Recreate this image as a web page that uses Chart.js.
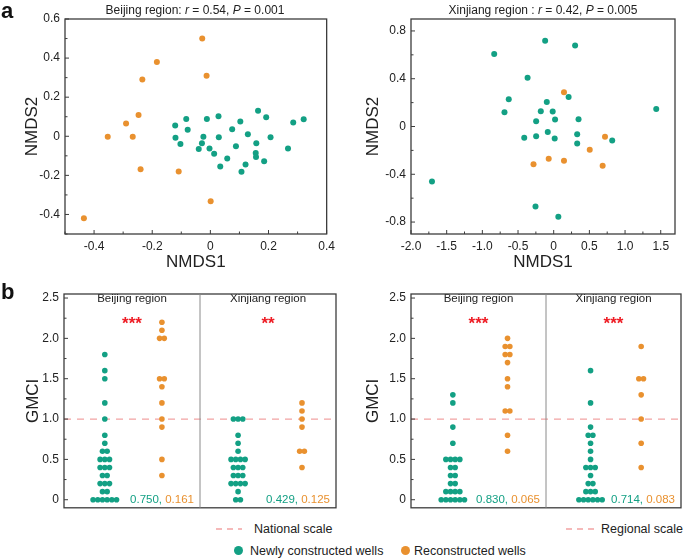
<!DOCTYPE html>
<html>
<head>
<meta charset="utf-8">
<script src="https://cdn.jsdelivr.net/npm/chart.js@4.4.1/dist/chart.umd.min.js"></script>
<style>
  body { margin: 0; background: #fff; font-family: Arial, "Liberation Sans", sans-serif; color: #222; }
  #fig { position: relative; width: 685px; height: 558px; overflow: hidden; }
  .panel { position: absolute; }
  .txt { position: absolute; white-space: nowrap; line-height: 1; }
  .letter { font-weight: bold; font-size: 22px; color: #111; }
  .title { font-size: 12px; transform: translateX(-50%); }
  .leg { font-size: 12.5px; }
  .dot { position: absolute; width: 9px; height: 9px; border-radius: 50%; }
</style>
</head>
<body>
<div id="fig">
  <canvas id="nmdsBj" class="panel" width="340" height="280" style="left:0;top:0"></canvas>
  <canvas id="nmdsXj" class="panel" width="345" height="280" style="left:340px;top:0"></canvas>
  <canvas id="gmciNat" class="panel" width="340" height="240" style="left:0;top:280px"></canvas>
  <canvas id="gmciReg" class="panel" width="345" height="240" style="left:340px;top:280px"></canvas>

  <div class="txt letter" style="left:1px;top:0px">a</div>
  <div class="txt letter" style="left:1px;top:281px">b</div>
  <div class="txt title" style="left:195px;top:4px">Beijing region: <i>r</i> = 0.54, <i>P</i> = 0.001</div>
  <div class="txt title" style="left:543px;top:4px">Xinjiang region : <i>r</i> = 0.42, <i>P</i> = 0.005</div>

  <svg class="panel" style="left:214px;top:524px" width="30" height="10"><line x1="2" y1="5" x2="28" y2="5" stroke="#f2a3a3" stroke-width="1.3" stroke-dasharray="6,5"/></svg>
  <div class="txt leg" style="left:254px;top:523px">National scale</div>
  <svg class="panel" style="left:564px;top:524px" width="32" height="10"><line x1="2" y1="5" x2="30" y2="5" stroke="#f2a3a3" stroke-width="1.3" stroke-dasharray="6,5"/></svg>
  <div class="txt leg" style="left:601px;top:523px">Regional scale</div>

  <div class="dot" style="left:234px;top:546px;background:#13a084"></div>
  <div class="txt leg" style="left:250px;top:545px">Newly constructed wells</div>
  <div class="dot" style="left:401px;top:546px;background:#e9912f"></div>
  <div class="txt leg" style="left:414px;top:545px">Reconstructed wells</div>
</div>

<script>
const green = '#13a084';
const orange = '#e9912f';

// a: NMDS scores, Beijing region
const bjNewX = [-0.121, -0.083, -0.078, -0.12, -0.103, -0.012, 0.028, -0.024, -0.029, -0.04, -0.003, 0.013, 0.029, 0.058, 0.034, 0.075, 0.103, 0.088, 0.129, 0.121, 0.107, 0.164, 0.158, 0.156, 0.157, 0.192, 0.185, 0.207, 0.267, 0.285, 0.321];
const bjNewY = [0.055, 0.089, 0.034, -0.007, -0.039, 0.089, 0.102, -0.002, -0.036, -0.065, -0.063, -0.089, -0.005, -0.114, -0.155, 0.036, 0.075, -0.051, 0.01, -0.145, -0.182, 0.131, -0.036, -0.085, -0.106, 0.097, -0.128, -0.005, -0.063, 0.07, 0.087];
const bjRecX = [-0.028, -0.184, -0.013, -0.234, -0.247, -0.29, -0.353, -0.267, -0.24, -0.109, 0.001, -0.435];
const bjRecY = [0.5, 0.38, 0.31, 0.29, 0.109, 0.065, -0.003, -0.003, -0.169, -0.18, -0.332, -0.419];

// a: NMDS scores, Xinjiang region
const xjNewX = [-0.834, -0.12, 0.30, -0.366, -0.63, -0.69, 0.209, -0.097, -0.181, -0.014, -0.246, 0.019, 0.348, 1.437, -0.413, -0.246, -0.083, 0.014, 0.329, 0.329, 0.82, -1.706, -0.255, 0.065];
const xjNewY = [0.608, 0.717, 0.678, 0.408, 0.228, 0.119, 0.247, 0.206, 0.128, 0.125, 0.044, 0.058, 0.061, 0.147, -0.094, -0.081, -0.047, -0.1, -0.064, -0.142, -0.117, -0.461, -0.669, -0.756];
const xjRecX = [0.144, 0.719, 0.505, -0.07, 0.144, -0.283, 0.686];
const xjRecY = [0.286, -0.086, -0.194, -0.269, -0.286, -0.317, -0.328];

// b: GMCI, national scale
const natBjNew = [1.8, 1.6, 1.5, 1.2, 1.0, 0.8, 0.7, 0.6, 0.6, 0.5, 0.5, 0.5, 0.4, 0.4, 0.4, 0.3, 0.3, 0.2, 0.2, 0.2, 0.1, 0.1, 0, 0, 0, 0, 0, 0];
const natBjRec = [2.2, 2.1, 2.0, 2.0, 1.5, 1.5, 1.4, 1.2, 1.0, 0.9, 0.5, 0.3];
const natXjNew = [1.0, 1.0, 1.0, 0.8, 0.7, 0.6, 0.5, 0.5, 0.5, 0.5, 0.4, 0.4, 0.4, 0.3, 0.3, 0.3, 0.2, 0.2, 0.2, 0.2, 0.1, 0, 0];
const natXjRec = [1.2, 1.1, 1.0, 0.9, 0.6, 0.6, 0.4];
const natStats = [['0.750', '0.161'], ['0.429', '0.125']];
const natStars = ['***', '**'];

// b: GMCI, regional scale
const regBjNew = [1.3, 1.2, 0.9, 0.7, 0.5, 0.5, 0.5, 0.5, 0.4, 0.4, 0.3, 0.3, 0.2, 0.2, 0.1, 0.1, 0.1, 0.1, 0, 0, 0, 0, 0, 0];
const regBjRec = [2.0, 1.9, 1.9, 1.8, 1.8, 1.7, 1.5, 1.4, 1.1, 1.1, 0.8, 0.6];
const regXjNew = [1.6, 1.2, 0.9, 0.8, 0.8, 0.7, 0.6, 0.5, 0.4, 0.4, 0.4, 0.3, 0.2, 0.2, 0.1, 0.1, 0.1, 0, 0, 0, 0, 0, 0];
const regXjRec = [1.9, 1.5, 1.5, 1.3, 1.0, 0.7, 0.4];
const regStats = [['0.830', '0.065'], ['0.714', '0.083']];
const regStars = ['***', '***'];

const regions = ['Beijing region', 'Xinjiang region'];

// tick values (minor ones get no label)
const bjXTicks = [-0.5, -0.4, -0.3, -0.2, -0.1, 0, 0.1, 0.2, 0.3, 0.4];
const bjXLabels = [-0.4, -0.2, 0, 0.2, 0.4];
const bjYTicks = [-0.5, -0.4, -0.3, -0.2, -0.1, 0, 0.1, 0.2, 0.3, 0.4, 0.5, 0.6];
const bjYLabels = [-0.4, -0.2, 0, 0.2, 0.4, 0.6];
const xjXTicks = [-2.0, -1.75, -1.5, -1.25, -1.0, -0.75, -0.5, -0.25, 0, 0.25, 0.5, 0.75, 1.0, 1.25, 1.5];
const xjXLabels = [-2.0, -1.5, -1.0, -0.5, 0, 0.5, 1.0, 1.5];
const xjYTicks = [-0.8, -0.6, -0.4, -0.2, 0, 0.2, 0.4, 0.6, 0.8];
const xjYLabels = [-0.8, -0.4, 0, 0.4, 0.8];
const gmciTicks = [0, 0.25, 0.5, 0.75, 1.0, 1.25, 1.5, 1.75, 2.0, 2.25, 2.5];
const gmciLabels = [0, 0.5, 1.0, 1.5, 2.0, 2.5];

const FONT = 'Arial, "Liberation Sans", sans-serif';
Chart.defaults.font.family = FONT;
Chart.defaults.color = '#222';

const pts = (xs, ys) => xs.map((x, i) => ({ x: x, y: ys[i] }));
const fmt = v => v === 0 ? '0' : v.toFixed(1);

// spread equal values sideways, like a dot plot
function swarm(values, center, step) {
    const total = {}, seen = {};
    values.forEach(v => total[v] = (total[v] || 0) + 1);
    return values.map(v => {
        seen[v] = seen[v] === undefined ? 0 : seen[v] + 1;
        return { x: center + (seen[v] - (total[v] - 1) / 2) * step, y: v };
    });
}

// frame, inward tick marks, region divider
const frame = {
    id: 'frame',
    afterDraw(chart, args, opts) {
        const { ctx, chartArea: a } = chart;
        ctx.save();
        ctx.strokeStyle = '#3c3c3c';
        ctx.lineWidth = 1.3;
        ctx.strokeRect(a.left, a.top, a.right - a.left, a.bottom - a.top);
        ctx.lineWidth = 1;
        ['x', 'y'].forEach(k => {
            const s = chart.scales[k];
            if (!s.options.display) return;
            s.ticks.forEach(t => {
                const len = t.label ? 4 : 2.5;
                const p = s.getPixelForValue(t.value);
                ctx.beginPath();
                if (k === 'x') { ctx.moveTo(p, a.bottom); ctx.lineTo(p, a.bottom - len); }
                else { ctx.moveTo(a.left, p); ctx.lineTo(a.left + len, p); }
                ctx.stroke();
            });
        });
        if (opts.divider !== undefined) {
            const x = chart.scales.x.getPixelForValue(opts.divider);
            ctx.strokeStyle = '#8a8a8a';
            ctx.beginPath(); ctx.moveTo(x, a.top); ctx.lineTo(x, a.bottom); ctx.stroke();
        }
        ctx.restore();
    }
};

// threshold line and text inside the GMCI panels
const gmciNotes = {
    id: 'gmciNotes',
    beforeDatasetsDraw(chart) {
        const { ctx, chartArea: a, scales: { y } } = chart;
        const py = y.getPixelForValue(1.0);
        ctx.save();
        ctx.strokeStyle = '#f2a3a3';
        ctx.lineWidth = 1.3;
        ctx.setLineDash([7, 6]);
        ctx.beginPath(); ctx.moveTo(a.left, py); ctx.lineTo(a.right, py); ctx.stroke();
        ctx.restore();
    },
    afterDraw(chart, args, opts) {
        const { ctx, scales: { x, y } } = chart;
        ctx.save();
        regions.forEach((name, i) => {
            const cx = x.getPixelForValue(1 + 2 * i);
            ctx.fillStyle = '#222';
            ctx.font = '11.5px ' + FONT;
            ctx.textAlign = 'center';
            ctx.textBaseline = 'middle';
            ctx.fillText(name, cx, y.getPixelForValue(2.5) + 1);
            ctx.fillStyle = '#ee1c24';
            ctx.font = 'bold 17px ' + FONT;
            ctx.fillText(opts.stars[i], cx, y.getPixelForValue(2.2) + 2);
            // stats, right aligned in each half
            const right = x.getPixelForValue(2 + 2 * i) - 6;
            const by = y.getPixelForValue(0);
            ctx.font = '11.5px ' + FONT;
            ctx.textAlign = 'right';
            ctx.fillStyle = orange;
            ctx.fillText(opts.stats[i][1], right, by);
            const w = ctx.measureText(opts.stats[i][1]).width;
            ctx.fillStyle = green;
            ctx.fillText(opts.stats[i][0] + ', ', right - w, by);
        });
        ctx.restore();
    }
};

function tickAxis(tickVals, labelVals, min, max) {
    return {
        type: 'linear', min: min, max: max,
        afterBuildTicks: s => { s.ticks = tickVals.map(v => ({ value: v })); },
        ticks: {
            autoSkip: false, maxRotation: 0, padding: 5,
            font: { size: 12 }, color: '#222',
            callback: v => labelVals.includes(v) ? fmt(v) : ''
        },
        grid: { display: false, drawTicks: false },
        border: { display: false }
    };
}

function nmdsChart(id, newPts, recPts, xAxis, yAxis, leftW, rightPad, yTitlePad) {
    xAxis.title = { display: true, text: 'NMDS1', font: { size: 17 }, color: '#222', padding: { top: 0, bottom: 7 } };
    xAxis.afterFit = s => { s.height = 46; };
    yAxis.title = { display: true, text: 'NMDS2', font: { size: 17 }, color: '#222', padding: { top: yTitlePad, bottom: 0 } };
    yAxis.afterFit = s => { s.width = leftW; };
    new Chart(document.getElementById(id), {
        type: 'scatter',
        data: {
            datasets: [
                { data: newPts, backgroundColor: green, pointRadius: 3, borderWidth: 0 },
                { data: recPts, backgroundColor: orange, pointRadius: 3, borderWidth: 0 }
            ]
        },
        options: {
            responsive: false, animation: false,
            layout: { padding: { left: 0, top: 19, right: rightPad, bottom: 0 } },
            plugins: { legend: { display: false }, tooltip: { enabled: false } },
            scales: { x: xAxis, y: yAxis }
        },
        plugins: [frame]
    });
}

function gmciChart(id, cols, pos, stats, stars, leftW, rightPad) {
    const step = 0.069;
    const yAxis = tickAxis(gmciTicks, gmciLabels, -0.1, 2.55);
    yAxis.title = { display: true, text: 'GMCI', font: { size: 17 }, color: '#222', padding: { top: 23, bottom: 0 } };
    yAxis.afterFit = s => { s.width = leftW; };
    new Chart(document.getElementById(id), {
        type: 'scatter',
        data: {
            datasets: cols.map((vals, i) => ({
                data: swarm(vals, pos[i], step),
                backgroundColor: i % 2 === 0 ? green : orange,
                pointRadius: 2.8, borderWidth: 0
            }))
        },
        options: {
            responsive: false, animation: false,
            layout: { padding: { left: 0, top: 14, right: rightPad, bottom: 3 } },
            plugins: {
                legend: { display: false }, tooltip: { enabled: false },
                frame: { divider: 2 },
                gmciNotes: { stats: stats, stars: stars }
            },
            scales: { x: { type: 'linear', min: 0, max: 4, display: false }, y: yAxis }
        },
        plugins: [gmciNotes, frame]
    });
}

nmdsChart('nmdsBj', pts(bjNewX, bjNewY), pts(bjRecX, bjRecY),
    tickAxis(bjXTicks, bjXLabels, -0.5, 0.4), tickAxis(bjYTicks, bjYLabels, -0.5, 0.6), 65, 5, 22);
nmdsChart('nmdsXj', pts(xjNewX, xjNewY), pts(xjRecX, xjRecY),
    tickAxis(xjXTicks, xjXLabels, -2.0, 1.7), tickAxis(xjYTicks, xjYLabels, -0.9, 0.9), 71, 10, 23);

gmciChart('gmciNat', [natBjNew, natBjRec, natXjNew, natXjRec], [0.6, 1.44, 2.56, 3.5], natStats, natStars, 64, 3);
gmciChart('gmciReg', [regBjNew, regBjRec, regXjNew, regXjRec], [0.62, 1.43, 2.66, 3.41], regStats, regStars, 71, 2);
</script>
</body>
</html>
